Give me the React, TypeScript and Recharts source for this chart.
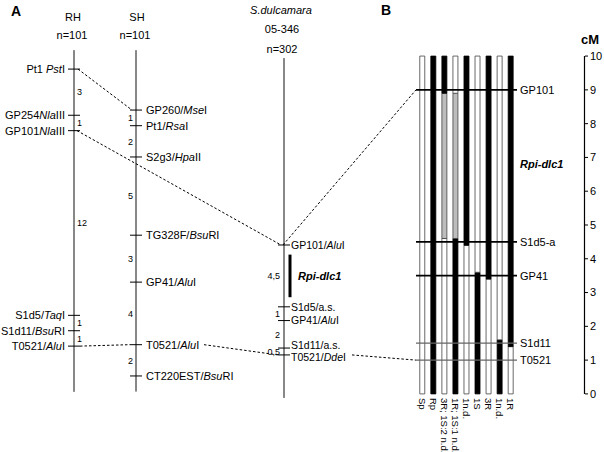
import React from "react";
import {
    ComposedChart,
    Bar,
    Cell,
    LabelList,
    Scatter,
    XAxis,
    YAxis,
    ReferenceLine,
} from "recharts";

const FONT = '"Liberation Sans", Arial, Helvetica, sans-serif';

// ---- Panel A: linkage maps (marker names, cM between successive markers) ----
const rhMarkers = ["Pt1 *Pst*I", "GP254*Nla*III", "GP101*Nla*III", "S1d5/*Taq*I", "S1d11/*Bsu*RI", "T0521/*Alu*I"];
const rhDistances = [3, 1, 12, 1, 1];

const shMarkers = ["GP260/*Mse*I", "Pt1/*Rsa*I", "S2g3/*Hpa*II", "TG328F/*Bsu*RI", "GP41/*Alu*I", "T0521/*Alu*I", "CT220EST/*Bsu*RI"];
const shDistances = [1, 2, 5, 3, 4, 2];

const sdMarkers = ["GP101/*Alu*I", "S1d5/a.s.", "GP41/*Alu*I", "S1d11/a.s.", "T0521/*Dde*I"];
const sdDistances = [4.5, 1, 2, 0.5];

// Rpi-dlc1 interval, cM below GP101/AluI on the S.dulcamara map
const rpiInterval = [0.7, 3.8];

// ---- Panel B: fine map of recombinants (cM scale 0-10) ----
const bMarkers = ["GP101", "S1d5-a", "GP41", "S1d11", "T0521"];
const bMarkerPos = [9, 4.5, 3.5, 1.5, 1];
const recombinants = ["Sp", "Rp", "3R; 1S:2 n.d.", "1R; 1S:1 n.d.", "1n.d.", "1S", "3R", "1n.d.", "1R"];
const breakpoints = [[], [], [4.6, 8.9], [4.6, 8.9], [4.4], [3.6], [3.4], [1.6], [1.4]];
// genotype of each segment, bottom to top: s = susceptible, r = resistant, u = not determined
const genotypes = [["s"], ["r"], ["s", "u", "r"], ["r", "u", "s"], ["s", "r"], ["r", "s"], ["s", "r"], ["r", "s"], ["s", "r"]];
const cmTicks = [0, 1, 2, 3, 4, 5, 6, 7, 8, 9, 10];

// ---- layout ----
const W = 604;
const H = 452;
const AXIS_W = 19;
const PLOT_W = W - AXIS_W;
const Y_DOMAIN = [-1.72, 11.66];
const B_LEFT = 416;
const B_RIGHT = 517;
const BAR_X0 = 422.3;
const BAR_STEP = 11.05;

type MapId = "RH" | "SH" | "SD";
const maps: Record<MapId, any> = {
    RH: { x: 74, top: 9.615, k: 0.4556, ext: [-1.23, 20.97], labelDx: -9, distDx: 3, font: 11, nudge: [] },
    SH: { x: 136, top: 8.402, k: 0.463, ext: [-3.83, 18], labelDx: 10, distDx: -3, font: 11, nudge: [] },
    SD: { x: 284, top: 4.408, k: 0.4068, ext: [-13.6, 11.13], labelDx: 7, distDx: -4, font: 10.5, nudge: [0, 0, 0, -2.5, 2.5] },
};

const colors: Record<string, string> = { s: "#ffffff", r: "#000000", u: "#bdbdbd" };

const buildMap = (id: MapId, names: string[], dists: number[]) => {
    const m = maps[id];
    let cum = 0;
    const pts = names.map((name, i) => {
        if (i > 0) cum += dists[i - 1];
        return { x: m.x, y: m.top - m.k * cum, name, dx: m.labelDx, ny: m.nudge[i] ?? 0, font: m.font };
    });
    const gaps = dists.map((d, i) => ({
        x: m.x,
        y: (pts[i].y + pts[i + 1].y) / 2,
        text: String(d).replace(".", ","),
        dx: m.distDx,
    }));
    return { pts, gaps, line: [m.top - m.k * m.ext[1], m.top - m.k * m.ext[0]] };
};

const rh = buildMap("RH", rhMarkers, rhDistances);
const sh = buildMap("SH", shMarkers, shDistances);
const sd = buildMap("SD", sdMarkers, sdDistances);
const allMaps = [rh, sh, sd];
const mapX = [maps.RH.x, maps.SH.x, maps.SD.x];

const mapPoint = (id: string, idx: number, dx: number) => {
    if (id === "B") return { x: B_LEFT + dx, y: bMarkerPos[idx] };
    const src = id === "RH" ? rh : id === "SH" ? sh : sd;
    return { x: src.pts[idx].x + dx, y: src.pts[idx].y };
};

// dashed links between homologous markers
const links: [string, number, number, string, number, number][] = [
    ["RH", 0, 4, "SH", 0, -4],
    ["RH", 2, 3, "SD", 0, -3],
    ["RH", 5, 6, "SH", 5, -6],
    ["SH", 5, 68, "SD", 4, -6],
    ["SD", 0, -1, "B", 0, 0],
    ["SD", 4, 68, "B", 4, 0],
];

const barRows = recombinants.map((name, i) => {
    const bounds = [0, ...breakpoints[i], 10];
    const row: any = { name, x: BAR_X0 + i * BAR_STEP };
    for (let s = 0; s < 3; s++) {
        row["s" + s] = s < bounds.length - 1 ? bounds[s + 1] - bounds[s] : 0;
    }
    return row;
});

const sdTop = sd.pts[0];
const rpiSeg = rpiInterval.map((c) => sdTop.y - maps.SD.k * c);

const rich = (label: string) =>
    label.split("*").map((part, i) =>
        i % 2 === 1 ? (
            <tspan key={i} fontStyle="italic">
                {part}
            </tspan>
        ) : (
            <tspan key={i}>{part}</tspan>
        )
    );

const MarkerShape = (p: any) => {
    const { cx, cy, payload } = p;
    const left = payload.dx < 0;
    return (
        <g>
            <line x1={cx - 6} x2={cx + 6} y1={cy} y2={cy} stroke="#000" strokeWidth={1} />
            <text
                x={cx + payload.dx}
                y={cy + payload.ny}
                dy="0.36em"
                textAnchor={left ? "end" : "start"}
                fontSize={payload.font}
                fontFamily={FONT}
                fill="#000"
            >
                {rich(payload.name)}
            </text>
        </g>
    );
};

const DistShape = (p: any) => {
    const { cx, cy, payload } = p;
    return (
        <text
            x={cx + payload.dx}
            y={cy}
            dy="0.36em"
            textAnchor={payload.dx < 0 ? "end" : "start"}
            fontSize={9}
            fontFamily={FONT}
            fill="#000"
        >
            {payload.text}
        </text>
    );
};

const TextShape = (p: any) => {
    const { cx, cy, payload } = p;
    return (
        <text
            x={cx}
            y={cy}
            dy="0.36em"
            fontSize={11}
            fontFamily={FONT}
            fontWeight={payload.bold ? "bold" : "normal"}
            fontStyle={payload.italic ? "italic" : "normal"}
            fill="#000"
        >
            {payload.text}
        </text>
    );
};

const BarName = (p: any) => {
    const { x, y, width, height, value } = p;
    const cx = x + width / 2;
    const y0 = y + height + 4;
    return (
        <text
            x={cx}
            y={y0}
            transform={`rotate(90, ${cx}, ${y0})`}
            dy="0.35em"
            fontSize={9.5}
            fontFamily={FONT}
            fill="#000"
        >
            {value}
        </text>
    );
};

const bLabels = bMarkers.map((text, i) => ({ x: B_RIGHT + 3, y: bMarkerPos[i], text }));
const sdRpiLabel = [{ x: maps.SD.x + 14, y: (rpiSeg[0] + rpiSeg[1]) / 2, text: "Rpi-dlc1", bold: true, italic: true }];

const segBar = (s: number) => (
    <Bar
        key={s}
        xAxisId="b"
        yAxisId="y"
        dataKey={"s" + s}
        stackId="g"
        barSize={5}
        isAnimationActive={false}
    >
        {barRows.map((r, i) => {
            const g = genotypes[i][s] ?? "s";
            return <Cell key={i} fill={colors[g]} stroke={g === "r" ? "#000" : "#444"} strokeWidth={0.8} />;
        })}
        {s === 0 && <LabelList dataKey="name" content={BarName} />}
    </Bar>
);

const App = () => {
    return (
        <div style={{ position: "absolute", left: 0, top: 0, width: W, height: H, background: "#fff" }}>
            <ComposedChart width={W} height={H} data={barRows} margin={{ top: 0, right: 0, bottom: 0, left: 0 }}>
                <XAxis xAxisId="a" type="number" dataKey="x" domain={[0, PLOT_W]} hide />
                <XAxis xAxisId="b" type="number" dataKey="x" domain={[0, PLOT_W]} hide />
                <YAxis
                    yAxisId="y"
                    orientation="right"
                    type="number"
                    dataKey="y"
                    domain={Y_DOMAIN}
                    ticks={cmTicks}
                    interval={0}
                    width={AXIS_W}
                    axisLine={false}
                    tickLine={{ stroke: "#000" }}
                    tickSize={3}
                    tickMargin={2}
                    tick={{ fill: "#000", fontSize: 11, fontFamily: FONT }}
                />

                {/* cM axis line */}
                <ReferenceLine
                    xAxisId="a"
                    yAxisId="y"
                    segment={[{ x: PLOT_W - 0.5, y: 0 }, { x: PLOT_W - 0.5, y: 10 }]}
                    stroke="#000"
                    strokeWidth={1.2}
                    ifOverflow="visible"
                />

                {/* chromosome lines */}
                {allMaps.map((m, i) => (
                    <ReferenceLine
                        key={"chr" + i}
                        xAxisId="a"
                        yAxisId="y"
                        segment={[{ x: mapX[i], y: m.line[0] }, { x: mapX[i], y: m.line[1] }]}
                        stroke="#111"
                        strokeWidth={1}
                        ifOverflow="visible"
                    />
                ))}

                {/* Rpi-dlc1 interval */}
                <ReferenceLine
                    xAxisId="a"
                    yAxisId="y"
                    segment={[{ x: maps.SD.x + 6, y: rpiSeg[0] }, { x: maps.SD.x + 6, y: rpiSeg[1] }]}
                    stroke="#000"
                    strokeWidth={3}
                    ifOverflow="visible"
                />

                {/* links between maps */}
                {links.map((l, i) => {
                    const a = mapPoint(l[0], l[1], l[2]);
                    const b = mapPoint(l[3], l[4], l[5]);
                    return (
                        <ReferenceLine
                            key={"link" + i}
                            xAxisId="a"
                            yAxisId="y"
                            segment={[a, b]}
                            stroke="#000"
                            strokeWidth={1}
                            strokeDasharray="2.5 2"
                            ifOverflow="visible"
                        />
                    );
                })}

                {/* panel B marker lines */}
                {bMarkerPos.map((c, i) => (
                    <ReferenceLine
                        key={"bm" + i}
                        xAxisId="a"
                        yAxisId="y"
                        segment={[{ x: B_LEFT, y: c }, { x: B_RIGHT, y: c }]}
                        stroke={i < 3 ? "#000" : "#666"}
                        strokeWidth={i < 3 ? 1.6 : 1.3}
                        ifOverflow="visible"
                    />
                ))}

                {[0, 1, 2].map(segBar)}

                {allMaps.map((m, i) => (
                    <Scatter
                        key={"mk" + i}
                        xAxisId="a"
                        yAxisId="y"
                        data={m.pts}
                        shape={MarkerShape}
                        isAnimationActive={false}
                    />
                ))}
                {allMaps.map((m, i) => (
                    <Scatter
                        key={"gap" + i}
                        xAxisId="a"
                        yAxisId="y"
                        data={m.gaps}
                        shape={DistShape}
                        isAnimationActive={false}
                    />
                ))}
                <Scatter xAxisId="a" yAxisId="y" data={bLabels} shape={TextShape} isAnimationActive={false} />
                <Scatter xAxisId="a" yAxisId="y" data={sdRpiLabel} shape={TextShape} isAnimationActive={false} />
            </ComposedChart>

            <svg
                width={W}
                height={H}
                style={{ position: "absolute", left: 0, top: 0, pointerEvents: "none" }}
                fontFamily={FONT}
                fill="#000"
            >
                <text x={11} y={16} fontSize={14} fontWeight="bold">A</text>
                <text x={73} y={21} fontSize={11} textAnchor="middle">RH</text>
                <text x={72} y={39} fontSize={11} textAnchor="middle">n=101</text>
                <text x={137} y={21} fontSize={11} textAnchor="middle">SH</text>
                <text x={135} y={39} fontSize={11} textAnchor="middle">n=101</text>
                <text x={281} y={14} fontSize={11} fontStyle="italic" textAnchor="middle">S.dulcamara</text>
                <text x={282} y={33} fontSize={11} textAnchor="middle">05-346</text>
                <text x={282} y={53} fontSize={11} textAnchor="middle">n=302</text>
                <text x={381} y={15} fontSize={14} fontWeight="bold">B</text>
                <text x={581} y={44} fontSize={13} fontWeight="bold">cM</text>
                <text x={520} y={168} fontSize={11} fontWeight="bold" fontStyle="italic">Rpi-dlc1</text>
            </svg>
        </div>
    );
};

export default App;
